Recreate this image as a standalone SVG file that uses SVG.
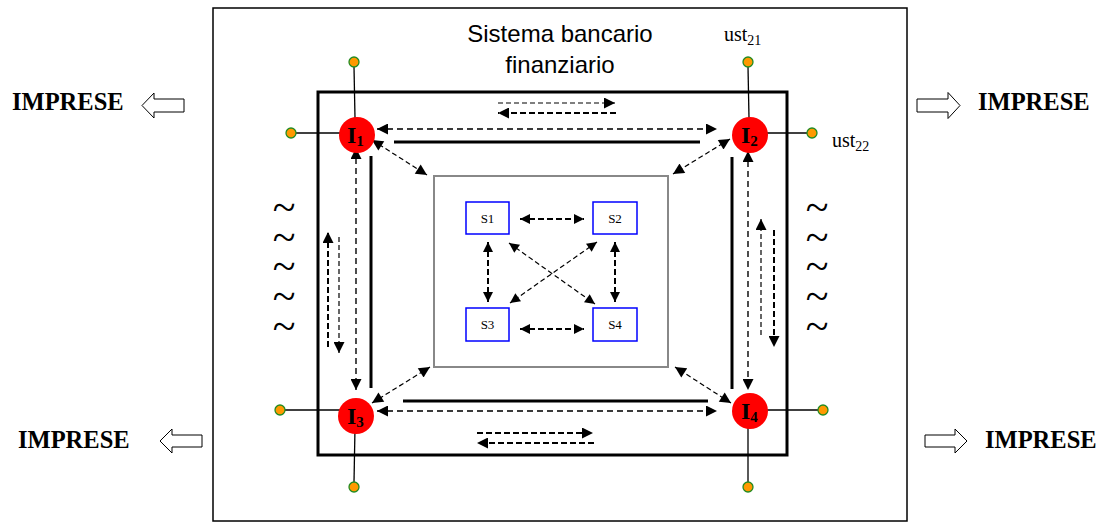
<svg xmlns="http://www.w3.org/2000/svg" width="1099" height="523" viewBox="0 0 1099 523">
  <style>
    .serif { font-family: "Liberation Serif", "Times New Roman", serif; fill: #000; }
    .sans { font-family: "Liberation Sans", Arial, sans-serif; fill: #000; }
    .imp { font-family: "Liberation Serif", "Times New Roman", serif; font-weight: bold; font-size: 24.5px; }
    .node { fill: #ff0000; }
    .lbl { font-family: "Liberation Serif", "Times New Roman", serif; font-weight: bold; font-size: 24px; }
    .leaf { fill: #ff9900; stroke: #228b22; stroke-width: 1.3; }
    .spoke { stroke: #000; stroke-width: 1.3; }
    .sbox { fill: #fff; stroke: #0000ff; stroke-width: 1.5; }
    .slbl { font-family: "Liberation Serif", "Times New Roman", serif; font-size: 13px; }
    .solid { stroke: #000; stroke-width: 3; fill: none; }
    .main { stroke: #3a3a3a; stroke-width: 1.8; stroke-dasharray: 6 4; fill: none; }
    .thin { stroke: #000; stroke-width: 1.2; stroke-dasharray: 5 3; fill: none; }
    .thick { stroke: #000; stroke-width: 2; stroke-dasharray: 6 3; fill: none; }
    .hollow { fill: #fff; stroke: #000; stroke-width: 1; }
    .tilde { font-family: "Liberation Serif", "Times New Roman", serif; font-size: 42px; }
  </style>
  <defs>
    <marker id="ah" viewBox="0 0 10 10" refX="10" refY="5" markerWidth="14" markerHeight="11" markerUnits="userSpaceOnUse" orient="auto-start-reverse">
      <path d="M0,0 L10,5 L0,10 z" fill="#000"/>
    </marker>
    <marker id="ahs" viewBox="0 0 10 10" refX="10" refY="5" markerWidth="11" markerHeight="10" markerUnits="userSpaceOnUse" orient="auto-start-reverse">
      <path d="M0,0 L10,5 L0,10 z" fill="#000"/>
    </marker>
  </defs>

  <rect x="0" y="0" width="1099" height="523" fill="#fff"/>

  <!-- outer frame -->
  <rect x="213" y="8" width="694" height="513" fill="none" stroke="#000" stroke-width="1.5"/>
  <!-- inner thick square -->
  <rect x="318" y="92" width="469" height="363" fill="none" stroke="#000" stroke-width="3"/>
  <!-- central grey box -->
  <rect x="434" y="176" width="234" height="191" fill="none" stroke="#888" stroke-width="2"/>

  <text class="sans" x="560" y="42" font-size="24" text-anchor="middle">Sistema bancario</text>
  <text class="sans" x="560" y="73" font-size="24" text-anchor="middle">finanziario</text>
  <text class="serif" x="724" y="41" font-size="20">ust<tspan font-size="14" dy="4">21</tspan></text>
  <text class="serif" x="832" y="147" font-size="20">ust<tspan font-size="14" dy="4">22</tspan></text>

  <!-- IMPRESE labels with hollow arrows -->
  <g id="imprese-tl">
    <text class="imp" x="12" y="110">IMPRESE</text>
    <path class="hollow" d="M142,105.5 L154,93 L154,99 L184,99 L184,112 L154,112 L154,118 Z"/>
  </g>
  <g id="imprese-tr">
    <path class="hollow" d="M960,105.5 L948,92.5 L948,99 L917,99 L917,112 L948,112 L948,118.5 Z"/>
    <text class="imp" x="978" y="110">IMPRESE</text>
  </g>
  <g id="imprese-bl">
    <text class="imp" x="18" y="448">IMPRESE</text>
    <path class="hollow" d="M160,441 L172,429 L172,435 L202,435 L202,447 L172,447 L172,453 Z"/>
  </g>
  <g id="imprese-br">
    <path class="hollow" d="M967,441 L955,429 L955,435 L925,435 L925,447 L955,447 L955,453 Z"/>
    <text class="imp" x="985" y="448">IMPRESE</text>
  </g>

  <!-- wave marks, one column per side -->
  <text id="waves-left" class="tilde" text-anchor="middle"><tspan x="284" y="221">~</tspan><tspan x="284" y="251">~</tspan><tspan x="284" y="280">~</tspan><tspan x="284" y="310">~</tspan><tspan x="284" y="340">~</tspan></text>
  <text id="waves-right" class="tilde" text-anchor="middle"><tspan x="817" y="221">~</tspan><tspan x="817" y="251">~</tspan><tspan x="817" y="280">~</tspan><tspan x="817" y="310">~</tspan><tspan x="817" y="340">~</tspan></text>

  <!-- connectors -->
  <g id="connectors">
    <!-- solid channels between intermediaries -->
    <line class="solid" x1="394" y1="142" x2="700" y2="142"/>
    <line class="solid" x1="403" y1="401" x2="708" y2="401"/>
    <line class="solid" x1="371" y1="156" x2="371" y2="388"/>
    <line class="solid" x1="732" y1="157" x2="732" y2="389"/>

    <!-- dashed two-way links between intermediaries -->
    <line class="main" x1="377" y1="129" x2="717" y2="129" marker-start="url(#ah)" marker-end="url(#ah)"/>
    <line class="main" x1="377" y1="411" x2="717" y2="411" marker-start="url(#ah)" marker-end="url(#ah)"/>
    <line class="main" x1="356" y1="148" x2="356" y2="390" marker-start="url(#ah)" marker-end="url(#ah)"/>
    <line class="main" x1="748" y1="151" x2="748" y2="390" marker-start="url(#ah)" marker-end="url(#ah)"/>

    <!-- flow pairs -->
    <line class="thin" x1="498" y1="103" x2="615" y2="103" marker-end="url(#ah)"/>
    <line class="thick" x1="616" y1="113" x2="498" y2="113" marker-end="url(#ah)"/>
    <line class="thick" x1="477" y1="433" x2="593" y2="433" marker-end="url(#ah)"/>
    <line class="thick" x1="594" y1="443" x2="477" y2="443" marker-end="url(#ah)"/>
    <line class="thick" x1="328" y1="347" x2="328" y2="232" marker-end="url(#ah)"/>
    <line class="thin" x1="339" y1="237" x2="339" y2="353" marker-end="url(#ah)"/>
    <line class="thin" x1="761" y1="335" x2="761" y2="219" marker-end="url(#ah)"/>
    <line class="thick" x1="774" y1="230" x2="774" y2="347" marker-end="url(#ah)"/>

    <!-- intermediaries to the central system -->
    <line class="thin" x1="372" y1="140" x2="427" y2="175" marker-start="url(#ah)" marker-end="url(#ah)"/>
    <line class="thin" x1="730" y1="139" x2="673" y2="174" marker-start="url(#ah)" marker-end="url(#ah)"/>
    <line class="thin" x1="372" y1="403" x2="430" y2="367" marker-start="url(#ah)" marker-end="url(#ah)"/>
    <line class="thin" x1="731" y1="403" x2="675" y2="367" marker-start="url(#ah)" marker-end="url(#ah)"/>

    <!-- links inside the central system -->
    <line class="thick" x1="520" y1="219" x2="584" y2="219" marker-start="url(#ahs)" marker-end="url(#ahs)"/>
    <line class="thick" x1="520" y1="329" x2="584" y2="329" marker-start="url(#ahs)" marker-end="url(#ahs)"/>
    <line class="thick" x1="488" y1="242" x2="488" y2="302" marker-start="url(#ahs)" marker-end="url(#ahs)"/>
    <line class="thick" x1="615" y1="242" x2="615" y2="302" marker-start="url(#ahs)" marker-end="url(#ahs)"/>
    <line class="thin" x1="509" y1="243" x2="595" y2="304" marker-start="url(#ahs)" marker-end="url(#ahs)"/>
    <line class="thin" x1="597" y1="242" x2="510" y2="303" marker-start="url(#ahs)" marker-end="url(#ahs)"/>

    <!-- spokes to end users -->
    <line class="spoke" x1="354" y1="67" x2="355" y2="118"/>
    <line class="spoke" x1="296" y1="133" x2="340" y2="133"/>
    <line class="spoke" x1="748" y1="67" x2="749" y2="118"/>
    <line class="spoke" x1="764" y1="133" x2="807" y2="133"/>
    <line class="spoke" x1="285" y1="410" x2="340" y2="410"/>
    <line class="spoke" x1="355" y1="428" x2="354" y2="482"/>
    <line class="spoke" x1="763" y1="410" x2="818" y2="410"/>
    <line class="spoke" x1="748" y1="428" x2="748" y2="482"/>
  </g>

  <!-- end users -->
  <g id="users">
    <circle class="leaf" cx="354" cy="62" r="5"/>
    <circle class="leaf" cx="291" cy="133" r="5"/>
    <circle class="leaf" cx="748" cy="62" r="5"/>
    <circle class="leaf" cx="812" cy="133" r="5"/>
    <circle class="leaf" cx="280" cy="410" r="5"/>
    <circle class="leaf" cx="354" cy="487" r="5"/>
    <circle class="leaf" cx="823" cy="410" r="5"/>
    <circle class="leaf" cx="748" cy="487" r="5"/>
  </g>

  <!-- intermediaries -->
  <g id="I1">
    <circle class="node" cx="357" cy="135" r="18"/>
    <text class="lbl" x="347" y="143">I<tspan font-size="15" dy="3">1</tspan></text>
  </g>
  <g id="I2">
    <circle class="node" cx="750" cy="135" r="18"/>
    <text class="lbl" x="741" y="143">I<tspan font-size="15" dy="3">2</tspan></text>
  </g>
  <g id="I3">
    <circle class="node" cx="356" cy="416" r="18"/>
    <text class="lbl" x="347" y="424">I<tspan font-size="15" dy="3">3</tspan></text>
  </g>
  <g id="I4">
    <circle class="node" cx="750" cy="411" r="18"/>
    <text class="lbl" x="741" y="419">I<tspan font-size="15" dy="3">4</tspan></text>
  </g>

  <!-- central system members -->
  <g id="S1">
    <rect class="sbox" x="466" y="202" width="43" height="32"/>
    <text class="slbl" x="487.5" y="223" text-anchor="middle">S1</text>
  </g>
  <g id="S2">
    <rect class="sbox" x="593" y="202" width="44" height="32"/>
    <text class="slbl" x="615" y="223" text-anchor="middle">S2</text>
  </g>
  <g id="S3">
    <rect class="sbox" x="466" y="308" width="43" height="33"/>
    <text class="slbl" x="487.5" y="329" text-anchor="middle">S3</text>
  </g>
  <g id="S4">
    <rect class="sbox" x="593" y="308" width="44" height="33"/>
    <text class="slbl" x="615" y="329" text-anchor="middle">S4</text>
  </g>
</svg>
